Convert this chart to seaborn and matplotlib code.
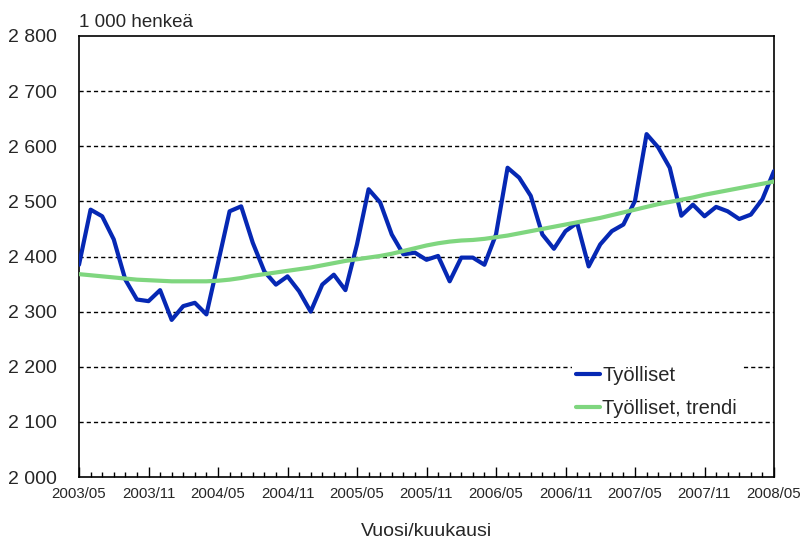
import matplotlib
matplotlib.use("Agg")
import matplotlib.pyplot as plt
import seaborn as sns
import pandas as pd
import numpy as np
from matplotlib.ticker import FixedLocator, MultipleLocator

months = [f"{2003 + (4 + i) // 12}/{(4 + i) % 12 + 1:02d}" for i in range(61)]

tyolliset = [2385, 2485, 2473, 2431, 2358, 2322, 2319, 2339, 2285, 2310,
             2316, 2295, 2388, 2482, 2491, 2425, 2373, 2349, 2364, 2337,
             2300, 2349, 2367, 2339, 2422, 2522, 2498, 2440, 2404, 2407,
             2394, 2401, 2355, 2398, 2398, 2385, 2440, 2561, 2543, 2510,
             2440, 2414, 2446, 2461, 2382, 2422, 2446, 2458, 2501, 2622,
             2598, 2561, 2474, 2494, 2473, 2490, 2482, 2468, 2476, 2504,
             2555]

trendi = [2368, 2366, 2364, 2362, 2360, 2358, 2357, 2356, 2355, 2355,
          2355, 2355, 2356, 2358, 2361, 2365, 2368, 2371, 2374, 2377,
          2380, 2384, 2388, 2392, 2395, 2398, 2401, 2405, 2410, 2415,
          2420, 2424, 2427, 2429, 2430, 2432, 2435, 2438, 2442, 2446,
          2450, 2454, 2458, 2462, 2466, 2470, 2475, 2480, 2485, 2490,
          2495, 2499, 2503, 2507, 2512, 2516, 2520, 2524, 2528, 2532,
          2536]

y_ticks = [2000, 2100, 2200, 2300, 2400, 2500, 2600, 2700, 2800]
y_labels = ["2 000", "2 100", "2 200", "2 300", "2 400", "2 500", "2 600", "2 700", "2 800"]
x_label_months = ["2003/05", "2003/11", "2004/05", "2004/11", "2005/05", "2005/11",
                  "2006/05", "2006/11", "2007/05", "2007/11", "2008/05"]

series_names = ["Työlliset", "Työlliset, trendi"]
colors = ["#0628B4", "#7FD67F"]

sns.set_theme(style="white")
plt.rcParams['font.family'] = ['Liberation Sans', 'DejaVu Sans']

df = pd.DataFrame({
    "idx": list(range(len(months))) * 2,
    "value": tyolliset + trendi,
    "series": [series_names[0]] * len(months) + [series_names[1]] * len(months),
})

fig = plt.figure(figsize=(8.08, 5.45), dpi=100)
ax = fig.add_axes([79 / 808, 68 / 545, (774 - 79) / 808, (477 - 36) / 545])

sns.lineplot(data=df, x="idx", y="value", hue="series", palette=colors,
             linewidth=3.0, ax=ax, legend=True, zorder=3)

ax.set_xlim(0, len(months) - 1)
ax.set_ylim(2000, 2800)

ax.set_yticks(y_ticks)
ax.set_yticklabels(y_labels, fontsize=14)
for yt in y_ticks[1:-1]:
    ax.axhline(yt, color="black", linewidth=1.0, linestyle=(0, (3, 2.2)), zorder=1)

major_pos = [months.index(m) for m in x_label_months]
ax.xaxis.set_major_locator(FixedLocator(major_pos))
ax.set_xticklabels(x_label_months)
ax.xaxis.set_minor_locator(MultipleLocator(1))
ax.tick_params(axis="x", which="major", direction="in", length=7, width=1,
               color="black", bottom=True, pad=7, labelsize=10.8)
ax.tick_params(axis="x", which="minor", direction="in", length=3.5, width=1,
               color="black", bottom=True)
ax.tick_params(axis="y", which="both", length=0, pad=16)

for sp in ax.spines.values():
    sp.set_visible(True)
    sp.set_color("black")
    sp.set_linewidth(1.2)

ax.set_xlabel("Vuosi/kuukausi", fontsize=14, labelpad=16)
ax.set_ylabel("")
ax.text(0.0, 1.012, "1 000 henkeä", transform=ax.transAxes, ha="left", va="bottom",
        fontsize=13.5)

leg = ax.legend(loc="upper left", bbox_to_anchor=((572 - 79) / (774 - 79), (477 - 362) / (477 - 36)),
                frameon=True, fontsize=14.5, handlelength=1.2, handletextpad=0.1,
                labelspacing=0.7, borderpad=0.2, borderaxespad=0)
leg.get_frame().set_facecolor("white")
leg.get_frame().set_edgecolor("none")
leg.get_frame().set_alpha(1)
leg.set_zorder(5)

fig.savefig("out.png", dpi=100, facecolor="white")
